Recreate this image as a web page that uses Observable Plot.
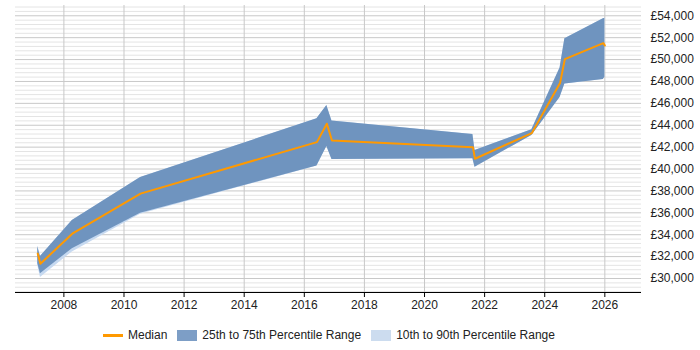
<!DOCTYPE html>
<html>
<head>
<meta charset="utf-8">
<script src="https://cdn.jsdelivr.net/npm/d3@7"></script>
<script src="https://cdn.jsdelivr.net/npm/@observablehq/plot@0.6"></script>
<style>
  body { margin: 0; background: #fff; font-family: "Liberation Sans", Arial, sans-serif; }
  #legend { display: flex; align-items: center; padding-left: 103px; margin-top: 9px; font-size: 12px; color: #222; height: 16px; }
  #legend .sw { display: inline-block; width: 20px; height: 11px; margin-right: 5px; }
  #legend .ln { display: inline-block; width: 20px; height: 3px; margin-right: 5px; background: #ff9900; }
  #legend .item { display: flex; align-items: center; margin-right: 10px; }
</style>
</head>
<body>
<div id="chart"></div>
<div id="legend">
  <span class="item"><span class="ln"></span>Median</span>
  <span class="item"><span class="sw" style="background:#7d9ec6"></span>25th to 75th Percentile Range</span>
  <span class="item"><span class="sw" style="background:#ccdcef"></span>10th to 90th Percentile Range</span>
</div>
<script>
// Time points (decimal years) and salary percentiles (GBP)
const years  = [2007.13, 2007.22, 2008.28, 2010.55, 2016.42, 2016.75, 2016.92, 2021.61, 2021.68, 2023.57, 2024.51, 2024.67, 2025.95, 2026.0];
const median = [32270, 31350, 34090, 37750, 42460, 44140, 42610, 42000, 40940, 43280, 47850, 50040, 51500, 51290];
const p75    = [32930, 32020, 35300, 39230, 44590, 45810, 44380, 43160, 41700, 43590, 49230, 51900, 53730, 53780];
const p25    = [31380, 30440, 32720, 35950, 40270, 42060, 40880, 40940, 40170, 43070, 46540, 47770, 48170, 48390];
const p90    = [32930, 32020, 35300, 39230, 44590, 45810, 44380, 43160, 41700, 43590, 49230, 51900, 53730, 53780];
const p10    = [31200, 30100, 32430, 35860, 40270, 42060, 40880, 40940, 40170, 43070, 46540, 47770, 48170, 48390];

// Axis ticks
const xTicks = [2008, 2010, 2012, 2014, 2016, 2018, 2020, 2022, 2024, 2026];
const yTicks = [30000, 32000, 34000, 36000, 38000, 40000, 42000, 44000, 46000, 48000, 50000, 52000, 54000];

const xDomain = [2006.39, 2027.22];
const yDomain = [28720, 54940];
const minorY = d3.range(28800, 55000, 400).filter(v => v % 2000 !== 0);

const rows = years.map((t, i) => ({t, median: median[i], p10: p10[i], p25: p25[i], p75: p75[i], p90: p90[i]}));

const chart = Plot.plot({
  width: 700,
  height: 318,
  marginLeft: 15,
  marginRight: 59,
  marginTop: 5,
  marginBottom: 26,
  style: { fontFamily: '"Liberation Sans", Arial, sans-serif', fontSize: "12px", color: "#222", background: "#fff" },
  x: { domain: xDomain },
  y: { domain: yDomain },
  marks: [
    Plot.ruleY(minorY, { stroke: "#e4e4e4", strokeWidth: 1 }),
    Plot.ruleY(yTicks, { stroke: "#c8c8c8", strokeWidth: 1 }),
    Plot.ruleX(xTicks, { stroke: "#c8c8c8", strokeWidth: 1 }),
    Plot.areaY(rows, { x: "t", y1: "p10", y2: "p90", fill: "#c6d9f0" }),
    Plot.areaY(rows, { x: "t", y1: "p25", y2: "p75", fill: "#6f94bf" }),
    Plot.lineY(rows, { x: "t", y: "median", stroke: "#ff9900", strokeWidth: 2 }),
    Plot.ruleY([yDomain[0]], { stroke: "#000", strokeWidth: 1 }),
    Plot.axisX({ ticks: xTicks, tickFormat: d => String(d), tickSize: 5, tickPadding: 3, label: null, stroke: "#000" }),
    Plot.axisY({ anchor: "right", ticks: yTicks, tickFormat: d => "£" + d3.format(",")(d), tickSize: 0, tickPadding: 9, label: null })
  ]
});
document.getElementById("chart").appendChild(chart);
</script>
</body>
</html>
